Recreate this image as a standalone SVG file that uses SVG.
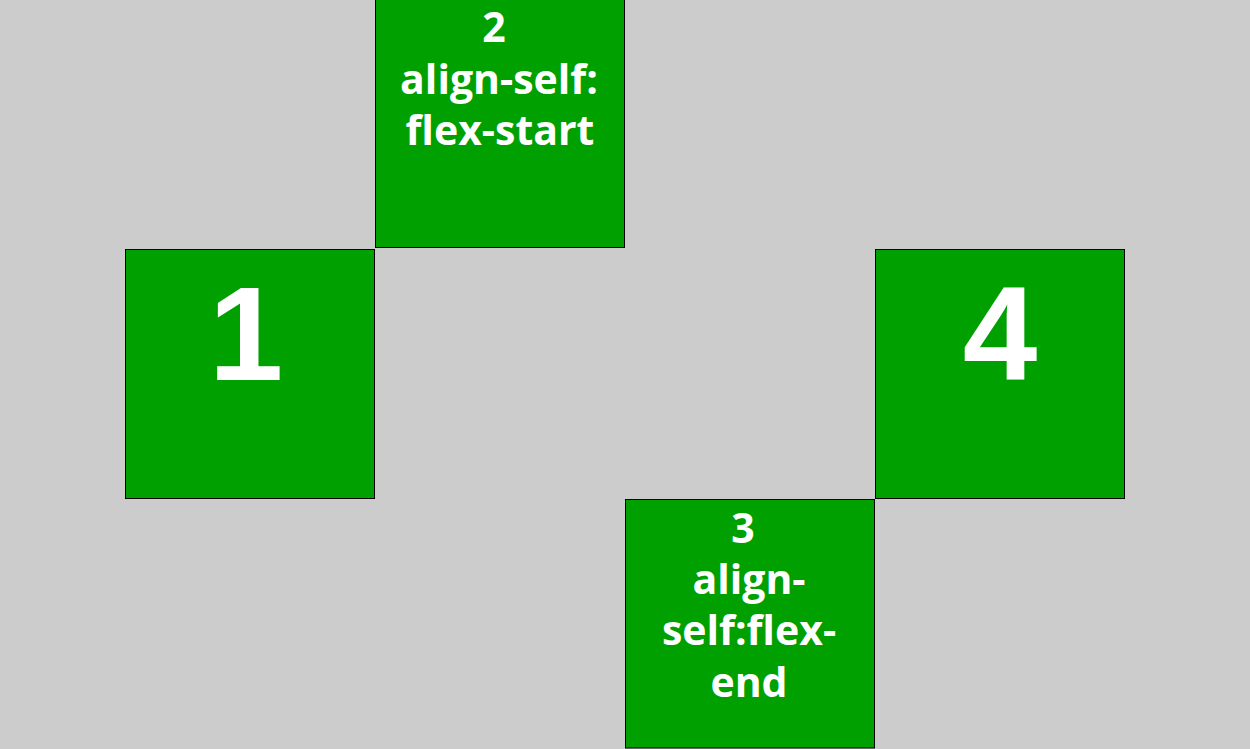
<svg xmlns="http://www.w3.org/2000/svg" width="1250" height="749" viewBox="0 0 1250 749">
<style>
.box{fill:#00a000;stroke:#000;stroke-width:1}
.big{font-family:"Liberation Sans",Arial,sans-serif;font-weight:bold;font-size:134px;fill:#fff;text-anchor:middle}
.lbl{font-family:"Open Sans","Noto Sans",sans-serif;font-weight:bold;font-size:41px;fill:#fff;text-anchor:middle}
</style>
<rect x="0" y="0" width="1250" height="749" fill="#cccccc"/>
<g id="node1">
<rect class="box" x="125.5" y="249.5" width="249" height="249"/>
<text class="big" x="246" y="380">1</text>
</g>
<g id="node2">
<rect class="box" x="375.5" y="-1.5" width="249" height="249"/>
<text class="lbl" x="494" y="42">2</text>
<text class="lbl" x="499" y="94">align-self:</text>
<text class="lbl" x="500" y="145">flex-start</text>
</g>
<g id="node3">
<rect class="box" x="625.5" y="499.5" width="249" height="248.5"/>
<text class="lbl" x="743" y="543">3</text>
<text class="lbl" x="749" y="594">align-</text>
<text class="lbl" x="749" y="645">self:flex-</text>
<text class="lbl" x="749" y="697">end</text>
</g>
<g id="node4">
<rect class="box" x="875.5" y="249.5" width="249" height="249"/>
<text class="big" x="1000" y="380">4</text>
</g>
<g id="connectors"></g>
</svg>
